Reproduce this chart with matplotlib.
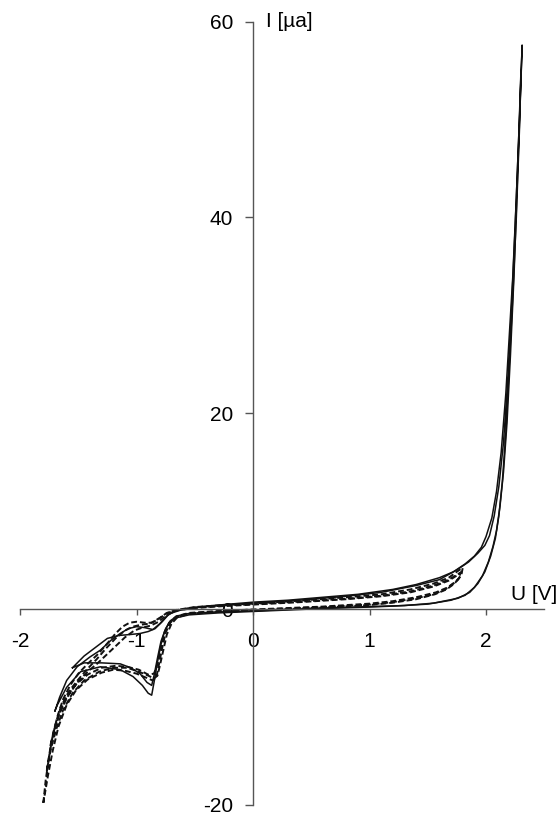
import matplotlib
matplotlib.use("Agg")
import matplotlib.pyplot as plt

plt.rcParams['font.family'] = ['Liberation Sans', 'DejaVu Sans']

# Cyclic voltammetry scans, U in V, I in uA
# solid scans (sweep up to 2.3 V)
solid1_u = [-1.70, -1.66, -1.60, -1.51, -1.40, -1.31, -1.22, -1.14, -1.07, -1.00, -0.93, -0.86,
            -0.80, -0.74, -0.67, -0.55, -0.40, -0.20, 0.00, 0.30, 0.60, 0.90, 1.20, 1.40, 1.60,
            1.72, 1.82, 1.90, 1.96, 2.00, 2.05, 2.09, 2.13, 2.17, 2.20, 2.23, 2.26, 2.29, 2.31,
            2.30, 2.27, 2.24, 2.21, 2.18, 2.15, 2.12, 2.09, 2.06, 2.02, 1.97, 1.90, 1.82, 1.70,
            1.50, 1.20, 1.00, 0.60, 0.20, 0.00, -0.30, -0.55, -0.66, -0.72, -0.76, -0.79, -0.82,
            -0.85, -0.87, -0.90, -0.95, -1.03, -1.14, -1.31, -1.48, -1.60, -1.68, -1.70]
solid1_i = [-10.4, -9.0, -7.3, -5.9, -4.9, -4.2, -3.2, -2.5, -2.0, -1.8, -1.9, -2.1,
            -1.5, -0.7, -0.2, 0.1, 0.3, 0.5, 0.7, 0.9, 1.2, 1.5, 2.0, 2.5, 3.2,
            3.8, 4.6, 5.4, 6.3, 7.4, 9.3, 12.0, 16.0, 22.0, 28.0, 34.0, 42.0, 51.0, 57.6,
            54.0, 44.0, 34.0, 26.0, 19.0, 14.0, 10.5, 8.0, 6.4, 4.8, 3.4, 2.2, 1.4, 0.9,
            0.5, 0.3, 0.2, 0.05, -0.15, -0.25, -0.4, -0.6, -0.9, -1.4, -2.3, -3.6, -5.4,
            -7.5, -8.8, -8.6, -7.8, -6.9, -6.2, -5.9, -6.4, -8.0, -9.8, -10.4]

solid2_u = [-1.55, -1.45, -1.35, -1.25, -1.15, -1.05, -0.97, -0.90, -0.84, -0.78, -0.72, -0.62,
            -0.45, -0.20, 0.00, 0.40, 0.80, 1.10, 1.40, 1.60, 1.75, 1.85, 1.93, 1.99, 2.03,
            2.07, 2.11, 2.15, 2.19, 2.22, 2.25, 2.28, 2.30,
            2.29, 2.26, 2.23, 2.20, 2.17, 2.14, 2.11, 2.08, 2.04, 1.99, 1.93, 1.86, 1.76, 1.55,
            1.30, 1.00, 0.60, 0.20, 0.00, -0.30, -0.55, -0.65, -0.71, -0.75, -0.79, -0.82,
            -0.85, -0.87, -0.91, -0.97, -1.05, -1.14, -1.30, -1.45, -1.55]
solid2_i = [-6.0, -4.8, -3.9, -3.0, -2.7, -2.6, -2.5, -2.3, -2.0, -1.3, -0.5, -0.1,
            0.2, 0.45, 0.6, 0.9, 1.3, 1.7, 2.4, 3.0, 4.0, 4.8, 5.7, 6.5, 7.5,
            9.5, 12.5, 17.0, 24.0, 31.0, 39.0, 48.0, 55.0,
            50.0, 40.0, 32.0, 25.0, 18.0, 13.0, 9.5, 7.2, 5.4, 3.8, 2.6, 1.7, 1.1, 0.6,
            0.35, 0.25, 0.1, -0.1, -0.2, -0.3, -0.45, -0.7, -1.2, -2.0, -3.3, -5.0,
            -6.8, -7.8, -7.5, -6.6, -6.0, -5.6, -5.5, -5.5, -6.0]

# dashed scans (sweep up to 1.8 V, down to -1.8 V)
dash1_u = [-1.80, -1.78, -1.75, -1.72, -1.68, -1.63, -1.57, -1.50, -1.42, -1.33, -1.25, -1.18,
           -1.12, -1.06, -1.00, -0.93, -0.87, -0.80, -0.74, -0.66, -0.50, -0.25, 0.00, 0.40,
           0.80, 1.10, 1.35, 1.55, 1.68, 1.76, 1.80,
           1.79, 1.76, 1.72, 1.65, 1.55, 1.40, 1.20, 1.00, 0.60, 0.20, 0.00, -0.30, -0.55,
           -0.66, -0.71, -0.75, -0.78, -0.81, -0.83, -0.86, -0.92, -1.00, -1.10, -1.20, -1.30,
           -1.42, -1.52, -1.60, -1.67, -1.72, -1.76, -1.80]
dash1_i = [-19.8, -17.5, -15.0, -13.0, -11.0, -9.2, -7.8, -6.6, -5.6, -4.6, -3.5, -2.5,
           -1.8, -1.4, -1.3, -1.4, -1.4, -0.9, -0.4, -0.1, 0.2, 0.4, 0.55, 0.85,
           1.2, 1.5, 2.0, 2.6, 3.2, 3.9, 4.2,
           3.6, 3.0, 2.6, 2.0, 1.5, 1.1, 0.7, 0.45, 0.2, 0.0, -0.1, -0.25, -0.45,
           -0.8, -1.4, -2.4, -4.0, -5.8, -7.0, -7.3, -7.0, -6.6, -6.3, -6.2, -6.5,
           -7.2, -8.3, -9.8, -12.0, -14.5, -17.0, -19.8]

dash2_u = [-1.77, -1.74, -1.70, -1.65, -1.58, -1.50, -1.42, -1.34, -1.26, -1.18, -1.10, -1.03,
           -0.96, -0.89, -0.82, -0.75, -0.68, -0.50, -0.25, 0.00, 0.40, 0.80, 1.10, 1.35,
           1.55, 1.68, 1.75, 1.78,
           1.77, 1.73, 1.66, 1.56, 1.40, 1.20, 1.00, 0.60, 0.20, 0.00, -0.30, -0.55, -0.65,
           -0.70, -0.74, -0.77, -0.80, -0.82, -0.85, -0.90, -0.98, -1.08, -1.20, -1.32, -1.45,
           -1.55, -1.63, -1.69, -1.74, -1.77]
dash2_i = [-16.5, -14.2, -12.0, -10.0, -8.4, -7.2, -6.1, -5.1, -4.0, -3.0, -2.2, -1.8,
           -1.6, -1.5, -1.1, -0.5, -0.15, 0.15, 0.35, 0.5, 0.75, 1.05, 1.35, 1.8,
           2.4, 3.0, 3.5, 3.7,
           3.2, 2.6, 2.0, 1.5, 1.0, 0.65, 0.4, 0.15, -0.05, -0.15, -0.3, -0.5, -0.85,
           -1.5, -2.6, -4.2, -5.8, -6.8, -7.1, -6.8, -6.4, -6.0, -6.0, -6.4, -7.3,
           -8.6, -10.3, -12.3, -14.5, -16.5]

dash3_u = [-1.74, -1.70, -1.65, -1.58, -1.50, -1.42, -1.34, -1.26, -1.18, -1.10, -1.02, -0.95,
           -0.88, -0.81, -0.74, -0.66, -0.50, -0.25, 0.00, 0.40, 0.80, 1.10, 1.35, 1.55,
           1.68, 1.76, 1.79,
           1.78, 1.74, 1.67, 1.57, 1.40, 1.20, 1.00, 0.60, 0.20, 0.00, -0.30, -0.55, -0.66,
           -0.72, -0.76, -0.79, -0.82, -0.85, -0.90, -0.98, -1.08, -1.18, -1.30, -1.42, -1.53,
           -1.61, -1.67, -1.71, -1.74]
dash3_i = [-14.0, -12.2, -10.3, -8.7, -7.4, -6.4, -5.6, -4.7, -3.8, -2.9, -2.2, -1.9,
           -1.7, -1.3, -0.6, -0.15, 0.1, 0.3, 0.45, 0.7, 1.0, 1.3, 1.7, 2.3,
           2.9, 3.5, 3.8,
           3.3, 2.8, 2.2, 1.7, 1.2, 0.8, 0.55, 0.25, 0.05, -0.05, -0.2, -0.4, -0.75,
           -1.4, -2.5, -4.1, -5.6, -6.6, -6.7, -6.2, -5.9, -5.8, -6.0, -6.7, -7.8,
           -9.2, -10.8, -12.4, -14.0]

x_ticks = [-2, -1, 0, 1, 2]
y_ticks = [-20, 0, 20, 40, 60]

fig = plt.figure(figsize=(5.6, 8.16), dpi=100)
ax = fig.add_axes([0, 0, 1, 1])

ax.plot(solid1_u, solid1_i, color='#111111', lw=1.1)
ax.plot(solid2_u, solid2_i, color='#111111', lw=1.1)
for u, i in [(dash1_u, dash1_i), (dash2_u, dash2_i), (dash3_u, dash3_i)]:
    ax.plot(u, i, color='#111111', lw=1.4, linestyle=(0, (3, 1.5)))

ax.set_xlim(-2.172, 2.635)
ax.set_ylim(-21.14, 62.2)

# axes crossing at the origin
axis_col = '#555555'
ax.spines['left'].set_position(('data', 0))
ax.spines['bottom'].set_position(('data', 0))
ax.spines['right'].set_visible(False)
ax.spines['top'].set_visible(False)
ax.spines['left'].set_bounds(-20, 60)
ax.spines['bottom'].set_bounds(-2, 2.5)
for s in ['left', 'bottom']:
    ax.spines[s].set_color(axis_col)
    ax.spines[s].set_linewidth(1.0)

ax.set_xticks(x_ticks)
ax.set_yticks(y_ticks)
ax.set_xticklabels([str(t) for t in x_ticks])
ax.set_yticklabels([str(t) for t in y_ticks])
ax.tick_params(axis='x', direction='out', length=4.5, width=1.0, color=axis_col, pad=12, labelsize=15)
ax.tick_params(axis='y', direction='out', length=5.5, width=1.0, color=axis_col, pad=9, labelsize=15)
ax.patch.set_visible(False)

ax.text(0.11, 60, 'I [µa]', fontsize=15, ha='left', va='center')
ax.text(2.61, 1.5, 'U [V]', fontsize=15, ha='right', va='center')

fig.savefig('out.png', dpi=100)
